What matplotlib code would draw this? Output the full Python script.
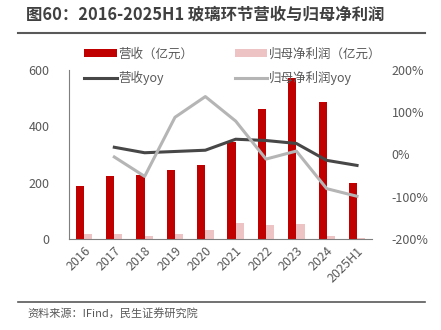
import matplotlib.pyplot as plt
import numpy as np

plt.rcParams['font.family'] = ['Noto Sans CJK SC', 'DejaVu Sans']

years = ["2016", "2017", "2018", "2019", "2020", "2021", "2022", "2023", "2024", "2025H1"]
revenue = [189, 222, 228, 243, 264, 343, 461, 571, 486, 200]
profit = [19, 19, 11, 18, 33, 57, 51, 54, 12, 2]
revenue_yoy = [None, 17, 4, 7, 10, 36, 33, 26, -14, -26]
profit_yoy = [None, -6, -52, 88, 137, 79, -11, 8, -81, -99]

RED = "#C00000"
PINK = "#EEC3C3"
DARK = "#474747"
GRAY = "#B5B5B5"
TXT = "#595959"

fig = plt.figure(figsize=(4.41, 3.30), dpi=100)
ax = fig.add_axes([0.156, 0.276, 0.688, 0.512])
ax2 = ax.twinx()

x = np.arange(len(years))
w = 0.27
ax.bar(x - w / 2, revenue, w, color=RED, label="营收（亿元）")
ax.bar(x + w / 2, profit, w, color=PINK, label="归母净利润（亿元）")

ry = np.array([np.nan if v is None else v for v in revenue_yoy], dtype=float)
py = np.array([np.nan if v is None else v for v in profit_yoy], dtype=float)
ax2.plot(x, ry, color=DARK, lw=2.2, label="营收yoy")
ax2.plot(x, py, color=GRAY, lw=2.2, label="归母净利润yoy")

ax.set_xlim(-0.5, len(years) - 0.5)
ax.set_ylim(0, 600)
ax.set_yticks([0, 200, 400, 600])
ax2.set_ylim(-200, 200)
ax2.set_yticks([-200, -100, 0, 100, 200])
ax2.set_yticklabels([f"{v}%" for v in [-200, -100, 0, 100, 200]])

for a in (ax, ax2):
    for s in a.spines.values():
        s.set_visible(False)
    a.tick_params(length=0, labelsize=9, colors=TXT)
ax.spines["left"].set_visible(True)
ax.spines["left"].set_color("#7f7f7f")
ax.spines["bottom"].set_visible(True)
ax.spines["bottom"].set_color("#7f7f7f")
ax.tick_params(axis="y", pad=14)
ax2.tick_params(axis="y", pad=14)

ax.set_xticks(x)
ax.set_xticklabels(years, rotation=45, ha="right", rotation_mode="anchor")
ax.tick_params(axis="x", pad=4)

h1, l1 = ax.get_legend_handles_labels()
h2, l2 = ax2.get_legend_handles_labels()
# ncol=2 fills column by column
handles = [h1[0], h2[0], h1[1], h2[1]]
labels = [l1[0], l2[0], l1[1], l2[1]]
leg = fig.legend(handles, labels, ncol=2, loc="upper left",
                 bbox_to_anchor=(0.165, 0.89), frameon=False,
                 fontsize=9, handlelength=2.6, handleheight=0.6,
                 columnspacing=3.3, labelspacing=0.85, handletextpad=0.15)
for t in leg.get_texts():
    t.set_color(TXT)

fig.text(0.06, 0.955, "图60：2016-2025H1 玻璃环节营收与归母净利润",
         fontsize=11.8, fontweight="bold", color="#404040", va="center")
fig.add_artist(plt.Line2D([0.041, 0.964], [0.899, 0.899], color="#595959", lw=1.5))
fig.add_artist(plt.Line2D([0.041, 0.964], [0.085, 0.085], color="#595959", lw=1.2))
fig.text(0.063, 0.05, "资料来源：IFind，民生证券研究院", fontsize=8, color=TXT, va="center")

fig.savefig("out.png", dpi=100)
